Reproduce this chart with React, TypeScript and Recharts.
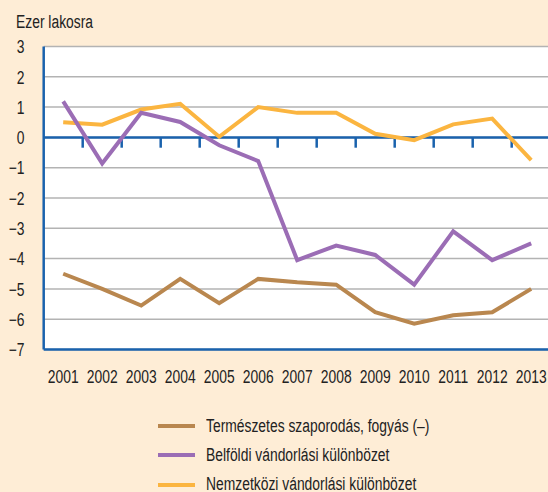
import React from 'react';
import { LineChart, Line, XAxis, YAxis, CartesianGrid, ReferenceLine, Legend } from 'recharts';

const years = [2001, 2002, 2003, 2004, 2005, 2006, 2007, 2008, 2009, 2010, 2011, 2012, 2013];
const naturalChange = [-4.5, -5.0, -5.55, -4.67, -5.47, -4.67, -4.78, -4.86, -5.77, -6.15, -5.87, -5.77, -5.0];
const domesticMigration = [1.19, -0.86, 0.81, 0.51, -0.26, -0.78, -4.05, -3.57, -3.88, -4.86, -3.1, -4.05, -3.5];
const internationalMigration = [0.5, 0.42, 0.92, 1.11, 0.02, 1.0, 0.81, 0.81, 0.12, -0.09, 0.43, 0.62, -0.75];
const yTicks = [-7, -6, -5, -4, -3, -2, -1, 0, 1, 2, 3];
const zeroTickPositions = [2001.5, 2002.5, 2003.5, 2004.5, 2005.5, 2006.5, 2007.5, 2008.5, 2009.5, 2010.5, 2011.5, 2012.5];
const seriesNames = ['Természetes szaporodás, fogyás (–)', 'Belföldi vándorlási különbözet', 'Nemzetközi vándorlási különbözet'];
const titleText = 'Ezer lakosra';

const BLUE = '#1a62ad';
const BG = '#feedd6';
const FONT = "'Liberation Sans', Arial, sans-serif";
const FS = 18;
const SX = 0.77;
const COLORS = ['#b9874f', '#9b6db5', '#fbb540'];
const KEYS = ['natural', 'domestic', 'international'];

const data = years.map((y, i) => ({
  year: y,
  natural: naturalChange[i],
  domestic: domesticMigration[i],
  international: internationalMigration[i],
}));

const fmt = (v: number) => (v < 0 ? '\u2212' + Math.abs(v) : String(v));

const YTick = (props: any) => {
  const { y, payload } = props;
  return (
    <text
      transform={`translate(24.5, ${y}) scale(${SX}, 1)`}
      textAnchor="end"
      dominantBaseline="central"
      fontSize={FS}
      fontFamily={FONT}
      fill="#222"
    >
      {fmt(payload.value)}
    </text>
  );
};

const XTick = (props: any) => {
  const { x, y, payload } = props;
  return (
    <text
      transform={`translate(${x}, ${y + 26.5}) scale(${SX}, 1)`}
      textAnchor="middle"
      dominantBaseline="central"
      fontSize={FS}
      fontFamily={FONT}
      fill="#222"
    >
      {payload.value}
    </text>
  );
};

const LegendContent = () => (
  <div style={{ fontFamily: FONT, fontSize: FS, color: '#222' }}>
    {seriesNames.map((n, i) => (
      <div key={n} style={{ height: 29.3, display: 'flex', alignItems: 'center', whiteSpace: 'nowrap' }}>
        <span style={{ display: 'inline-block', flex: 'none', width: 37.6, height: 4, background: COLORS[i], marginRight: 10.5 }} />
        <span style={{ display: 'inline-block', transform: `scaleX(${SX})`, transformOrigin: 'left center' }}>{n}</span>
      </div>
    ))}
  </div>
);

export default function App() {
  return (
    <div style={{ position: 'absolute', left: 0, top: 0, width: 548, height: 492, background: BG, overflow: 'hidden' }}>
      <div
        style={{
          position: 'absolute',
          left: 16,
          top: 11,
          fontFamily: FONT,
          fontSize: FS,
          color: '#222',
          lineHeight: '22px',
          whiteSpace: 'nowrap',
          transform: `scaleX(${SX})`,
          transformOrigin: 'left center',
        }}
      >
        {titleText}
      </div>
      <LineChart
        width={560}
        height={492}
        data={data}
        margin={{ top: 46.5, right: 9.3, bottom: 112.5, left: 0 }}
      >
        <CartesianGrid vertical={false} stroke="#b3b3b3" strokeWidth={1.5} fill="#ffffff" />
        <XAxis
          dataKey="year"
          type="number"
          domain={[2000.5, 2013.5]}
          ticks={years}
          interval={0}
          height={30}
          axisLine={{ stroke: BLUE, strokeWidth: 2.5 }}
          tickLine={false}
          tickSize={0}
          tickMargin={0}
          tick={<XTick />}
        />
        <XAxis
          xAxisId="top"
          orientation="top"
          dataKey="year"
          type="number"
          domain={[2000.5, 2013.5]}
          height={0}
          tick={false}
          tickLine={false}
          axisLine={{ stroke: BLUE, strokeWidth: 2.5 }}
        />
        <YAxis
          type="number"
          domain={[-7, 3]}
          ticks={yTicks}
          interval={0}
          width={43.7}
          axisLine={{ stroke: BLUE, strokeWidth: 2.5 }}
          tickLine={false}
          tick={<YTick />}
        />
        <ReferenceLine y={0} stroke={BLUE} strokeWidth={2.5} />
        {zeroTickPositions.map((t) => (
          <ReferenceLine
            key={t}
            segment={[{ x: t, y: 0 }, { x: t, y: -0.34 }]}
            stroke={BLUE}
            strokeWidth={2.5}
          />
        ))}
        <Line dataKey={KEYS[2]} stroke={COLORS[2]} strokeWidth={4} dot={false} isAnimationActive={false} />
        <Line dataKey={KEYS[0]} stroke={COLORS[0]} strokeWidth={4} dot={false} isAnimationActive={false} />
        <Line dataKey={KEYS[1]} stroke={COLORS[1]} strokeWidth={4} dot={false} isAnimationActive={false} />
        <Legend
          layout="vertical"
          align="center"
          verticalAlign="middle"
          content={<LegendContent />}
          wrapperStyle={{ left: 157.7, top: 411.5, width: 360, height: 90 }}
        />
      </LineChart>
    </div>
  );
}
